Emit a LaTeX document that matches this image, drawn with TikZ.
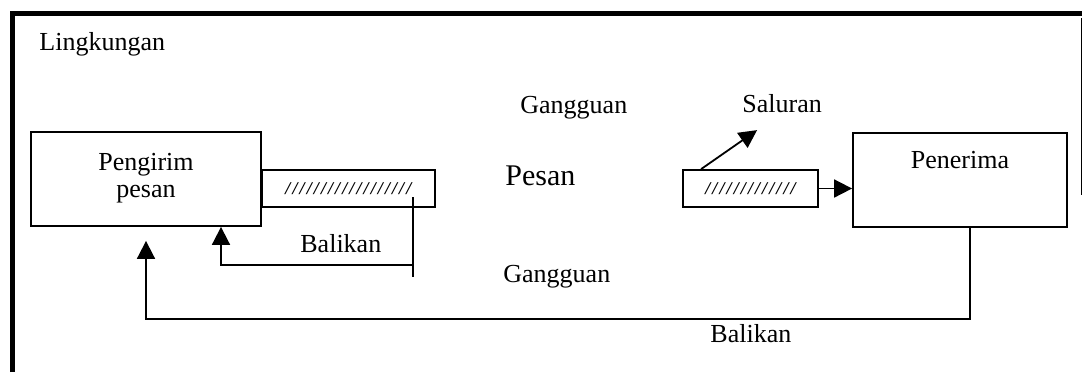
\documentclass[tikz,border=0pt]{standalone}
\usepackage{fontspec}
\setmainfont{Liberation Serif}
\usetikzlibrary{positioning, arrows.meta}
\tikzset{
>={Triangle[length=9pt, width=9pt]}, % big filled arrow heads
box/.style={draw, line width=0.9pt, inner sep=0pt}, % the plain boxes
word/.style={font=\fontsize{13}{13.5}\selectfont, inner sep=0pt}, % all the labels
hatch/.style={font=\fontsize{9}{9}\selectfont\bfseries\itshape\addfontfeature{LetterSpace=11.7}}, % the //// in the bars
line/.style={line width=0.9pt}, % connectors
}

\begin{document}
\begin{tikzpicture}[x=0.5pt, y=-0.5pt]
        \useasboundingbox (0,0) rectangle (1082,372);
        % frame of the environment
        \draw[line width=2.5pt] (12,372) -- (12,13.5) -- (1082,13.5);
        \draw[line width=0.5pt] (1081,18) -- (1081,195);
        \node[word, anchor=base west] (lingkungan) at (39,50) {Lingkungan};

        \node[box, minimum width=115pt, minimum height=47pt,
              label={[word, align=center, yshift=0.5pt]center:Pengirim\\pesan}] (pengirim) at (146,179) {};
        \node[box, hatch, anchor=west, minimum width=86.5pt, minimum height=18.5pt] (bar1) at (261,188.5) {//////////////////};
        \node[box, hatch, minimum width=67.5pt, minimum height=18.5pt] (bar2) at (750.5,188.5) {/////////////};
        \node[box, minimum width=107pt, minimum height=47pt,
              label={[word, yshift=9.75pt]center:Penerima}] (penerima) at (960,180) {};

        \node[word, anchor=base west] (gangguanatas) at (520,113) {Gangguan};
        \node[word, anchor=base west] (saluran) at (742,112) {Saluran};
        \node[word, font=\fontsize{15}{15}\selectfont, anchor=base west] (pesan) at (505,185) {Pesan};
        \node[word, anchor=base west] (gangguanbawah) at (503,282) {Gangguan};
        \node[word, anchor=base west] (balikandalam) at (300,252) {Balikan};
        \node[word, anchor=base west] (balikanluar) at (710,342) {Balikan};

        \coordinate (fbtop) at (413,197);
        \coordinate (fbend) at (413,277);
        \coordinate (fbturn) at (413,265);
        \coordinate (fbcorner) at (146,319);

        \draw[line, ->] (bar2.east) -- (bar2.east -| penerima.west);
        \draw[line, ->] ([xshift=9.5pt]bar2.north west) -- ++(56,-39);
        \draw[line] (fbtop) -- (fbend);
        \draw[line, ->] (fbturn) -| ([xshift=37.5pt]pengirim.south);
        \draw[line, ->] ([xshift=5pt]penerima.south) |- (fbcorner) -- ([yshift=-7pt]pengirim.south);
\end{tikzpicture}
\end{document}
